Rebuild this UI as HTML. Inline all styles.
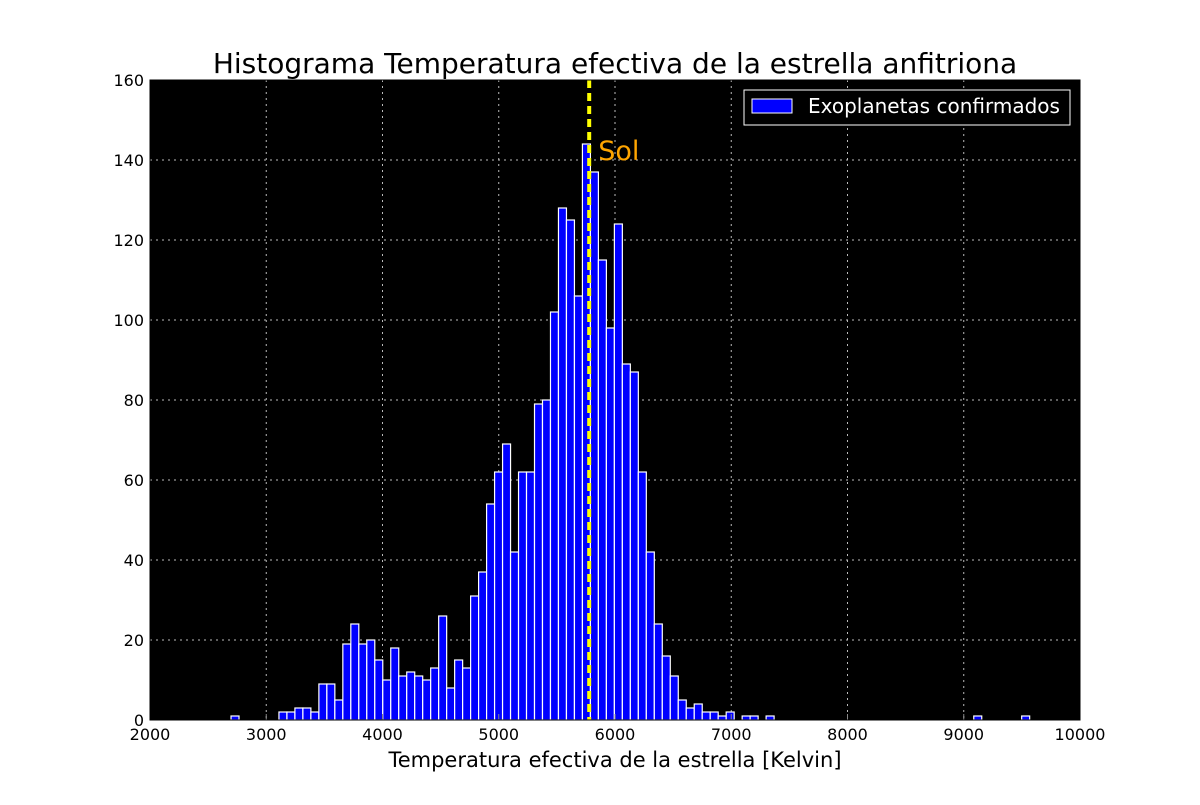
<!DOCTYPE html>
<html><head><meta charset="utf-8"><style>
body{margin:0;background:#fff;width:1200px;height:800px;overflow:hidden}
svg text{font-family:"DejaVu Sans","Liberation Sans",sans-serif}
</style></head><body>
<svg id="chart" width="1200" height="800" xmlns="http://www.w3.org/2000/svg">
<text x="615" y="73" text-anchor="middle" font-size="28">Histograma Temperatura efectiva de la estrella anfitriona</text>
<rect x="150" y="80" width="930" height="640" fill="#000"/>
<g id="grid"></g>
<g id="bars"></g>
<g id="ticks"></g>
<line id="sun" y1="80" y2="720" stroke="#ffff00" stroke-width="4" stroke-dasharray="8,5"/>
<text id="sunlbl" y="160" font-size="27" fill="#ffa500">Sol</text>
<rect x="150" y="80" width="930" height="640" fill="none" stroke="#000" stroke-width="1"/>
<g>
<rect x="744" y="90" width="326" height="35" fill="#000" stroke="#fff" stroke-width="1"/>
<rect x="752" y="99" width="40" height="14" fill="#0000ff" stroke="#fff" stroke-width="1"/>
<text x="808" y="113" font-size="20" fill="#fff">Exoplanetas confirmados</text>
</g>
<text x="615" y="767" text-anchor="middle" font-size="21">Temperatura efectiva de la estrella [Kelvin]</text>
</svg>
<script>
const binStart = 2697;
const binWidth = 68.7;
const counts = [1,0,0,0,0,0,2,2,3,3,2,9,9,5,19,24,19,20,15,10,18,11,12,11,10,13,26,8,15,13,31,37,54,62,69,42,62,62,79,80,102,128,125,106,144,137,115,98,124,89,87,62,42,24,16,11,5,3,4,2,2,1,2,0,1,1,0,1,0,0,0,0,0,0,0,0,0,0,0,0,0,0,0,0,0,0,0,0,0,0,0,0,0,1,0,0,0,0,0,1];
const xTicks = [2000,3000,4000,5000,6000,7000,8000,9000,10000];
const yTicks = [0,20,40,60,80,100,120,140,160];
const sunTemp = 5778;
const NS='http://www.w3.org/2000/svg';
const X0=150,X1=1080,Y0=720,Y1=80;
const sx=v=>X0+(v-2000)/8000*(X1-X0);
const sy=v=>Y0-(v/160)*(Y0-Y1);
function mk(tag,attrs,parent){const e=document.createElementNS(NS,tag);for(const k in attrs)e.setAttribute(k,attrs[k]);parent.appendChild(e);return e;}
const grid=document.getElementById('grid'),bars=document.getElementById('bars'),ticks=document.getElementById('ticks');
xTicks.forEach(t=>{
  const x=sx(t);
  if(t>2000&&t<10000){const l=mk('line',{x1:x,x2:x,y1:Y1,y2:Y0,stroke:'#bbb','stroke-width':1,'stroke-dasharray':'2,4'},grid);
  
  }
  mk('line',{x1:x,x2:x,y1:Y0,y2:Y0-6,stroke:'#888'},ticks);
  const tx=mk('text',{x:x,y:Y0+20,'text-anchor':'middle','font-size':16},ticks);
  tx.textContent=t;
  
  
});
yTicks.forEach(t=>{
  const y=sy(t);
  if(t>0&&t<160){const l=mk('line',{x1:X0,x2:X1,y1:y,y2:y,stroke:'#bbb','stroke-width':1,'stroke-dasharray':'2,4'},grid);
  
  }
  const tx=mk('text',{x:X0-6,y:y+6,'text-anchor':'end','font-size':16},ticks);
  tx.textContent=t;
  
  
});
counts.forEach((c,i)=>{
  if(c<=0)return;
  const x=sx(binStart+i*binWidth),w=sx(binStart+(i+1)*binWidth)-x;
  const r=mk('rect',{x:x,y:sy(c),width:w,height:Y0-sy(c),fill:'#0000ff',stroke:'#fff','stroke-width':1.2},bars);
  
  
});
const sl=document.getElementById('sun');sl.setAttribute('x1',sx(sunTemp));sl.setAttribute('x2',sx(sunTemp));
document.getElementById('sunlbl').setAttribute('x',sx(sunTemp)+9);
</script>
</body></html>
